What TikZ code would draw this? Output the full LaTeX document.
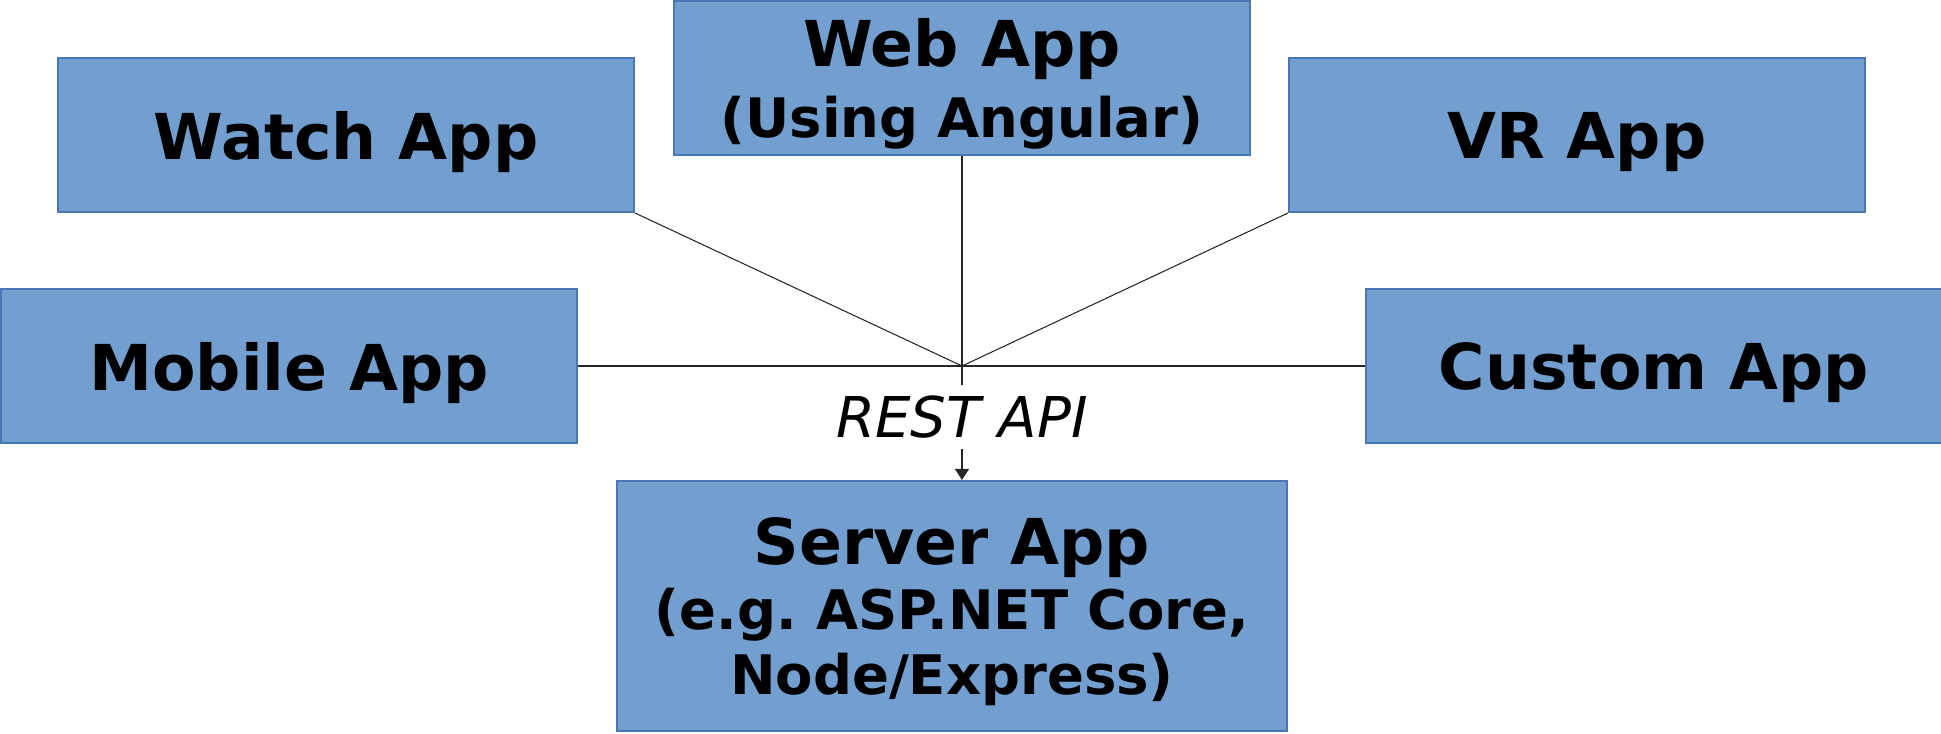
\documentclass[tikz,border=0pt]{standalone}
\usepackage{fontspec}
\setmainfont{DejaVu Sans}
\usepackage{xcolor}
\usepackage{tikz}
\usetikzlibrary{arrows.meta,positioning}
\definecolor{AppFill}{HTML}{729FCF}
\definecolor{AppEdge}{HTML}{4A76B8}
\definecolor{Ink}{HTML}{000000}
\definecolor{Wire}{HTML}{262626}
% smaller second line inside a box
\newcommand{\appnote}{\fontsize{15.5}{18.5}\selectfont}

\begin{document}
\frenchspacing
\begin{tikzpicture}[
  app/.style={draw=AppEdge, line width=0.45pt, fill=AppFill, inner sep=0pt,
    minimum width=57.6mm, minimum height=15.4mm, align=center, text=Ink,
    text depth=0pt, font=\fontsize{18}{18.5}\selectfont\bfseries},
  link/.style={draw=Wire, line width=0.3pt}
]
  \useasboundingbox (-9.62,3.66) rectangle (9.79,-3.68);
  \coordinate (hub) at (0,0);

  % client apps around the hub
  \node[app, above=21mm of hub] (web) {Web App\\[0.6mm]\appnote(Using Angular)};
  \node[app, above left=15.3mm and 32.7mm of hub] (watch) {Watch App};
  \node[app, above right=15.3mm and 32.6mm of hub] (vr) {VR App};
  \node[app, left=38.4mm of hub] (mobile) {Mobile App};
  \node[app, right=40.3mm of hub] (custom) {Custom App};

  % api label and server
  \node[below=1.9mm of hub, inner sep=1mm, text=Ink,
    font=\fontsize{16}{18}\selectfont\itshape] (api) {REST API};
  \node[app, below=3.1mm of api, xshift=-1mm, minimum width=67mm,
    minimum height=25mm] (server)
    {Server App\\\appnote(e.g. ASP.NET Core,\\\appnote Node/Express)};

  \draw[link] (mobile) -- (custom);
  \draw[link] (watch.south east) -- (hub) -- (vr.south west);
  \draw[link] (web) -- (hub) -- (api);
  \draw[link, -{Triangle[width=1.4mm, length=1.1mm]}] (api) -- (api.south |- server.north);
\end{tikzpicture}
\end{document}
